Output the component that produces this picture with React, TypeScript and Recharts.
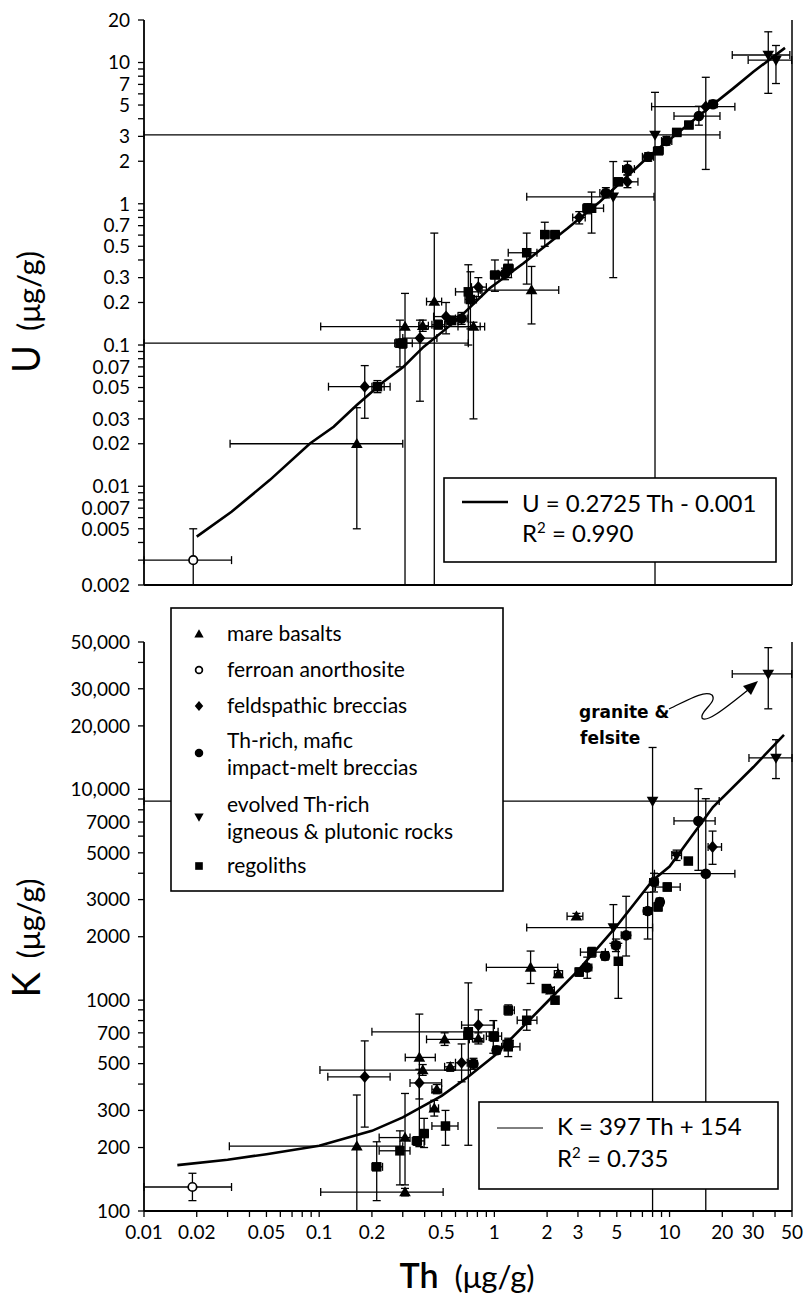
import React from 'react';
import { ComposedChart, Scatter, XAxis, YAxis, ErrorBar } from 'recharts';

// each point: [Th, value, ThLow, ThHigh, valueLow, valueHigh]
const uMare = [
  [0.164, 0.020, 0.031, 0.30, 0.005, 0.036],
  [0.309, 0.135, 0.102, 0.83, 0.002, 0.232],
  [0.39, 0.137, 0.37, 0.42, 0.125, 0.15],
  [0.454, 0.203, 0.41, 0.50, 0.002, 0.62],
  [0.76, 0.135, 0.62, 0.88, 0.030, 0.145],
  [1.63, 0.245, 0.83, 2.33, 0.141, 0.36],
];
const uFerroan = [[0.0191, 0.0030, 0.01, 0.0316, 0.002, 0.0050]];
const uFeld = [
  [0.182, 0.0507, 0.113, 0.254, 0.0303, 0.0715],
  [0.376, 0.112, 0.30, 0.47, 0.040, 0.15],
  [0.53, 0.159, 0.45, 0.62, 0.12, 0.20],
  [0.81, 0.257, 0.74, 0.9, 0.22, 0.3],
  [3.05, 0.80, 2.8, 3.3, 0.72, 0.88],
  [5.75, 1.43, 5.2, 6.6, 1.3, 1.6],
  [16.1, 4.87, 7.9, 23.6, 1.75, 7.86],
];
const uMelt = [
  [0.65, 0.154, 0.6, 0.7, 0.14, 0.17],
  [1.15, 0.32, 1.05, 1.25, 0.29, 0.35],
  [4.33, 1.19, 4.0, 4.7, 1.1, 1.3],
  [5.75, 1.76, 5.4, 6.3, 1.6, 2.0],
  [7.55, 2.15, 7.0, 8.1, 2.0, 2.3],
  [9.6, 2.78, 9.0, 10.3, 2.6, 3.0],
  [14.7, 4.18, 10.6, 19.4, 3.6, 4.9],
  [17.7, 5.06, 16.8, 18.7, 4.8, 5.4],
];
const uEvolved = [
  [4.77, 1.12, 1.53, 8.15, 0.30, 1.99],
  [8.26, 3.07, 0.01, 19.4, 0.002, 6.15],
  [36.6, 11.3, 22.8, 48.6, 6.05, 16.5],
  [40.5, 10.4, 28.1, 49.8, 7.1, 13.2],
];
const uRegolith = [
  [0.215, 0.0507, 0.2, 0.235, 0.046, 0.056],
  [0.289, 0.103, 0.01, 0.71, 0.07, 0.15],
  [0.30, 0.103, 0.27, 0.34, 0.095, 0.11],
  [0.478, 0.139, 0.44, 0.52, 0.13, 0.15],
  [0.57, 0.149, 0.53, 0.62, 0.14, 0.16],
  [0.71, 0.238, 0.6, 0.85, 0.10, 0.37],
  [0.73, 0.21, 0.68, 0.79, 0.13, 0.33],
  [1.007, 0.313, 0.95, 1.07, 0.24, 0.40],
  [1.2, 0.349, 1.13, 1.28, 0.30, 0.40],
  [1.53, 0.45, 1.2, 1.75, 0.27, 0.62],
  [1.94, 0.605, 1.85, 2.05, 0.50, 0.74],
  [2.22, 0.605, 2.1, 2.35, 0.57, 0.64],
  [3.4, 0.93, 3.2, 3.6, 0.85, 1.0],
  [3.59, 0.93, 3.3, 4.2, 0.62, 1.21],
  [5.09, 1.43, 4.8, 5.4, 1.35, 1.52],
  [8.63, 2.37, 8.1, 9.2, 2.25, 2.5],
  [11.0, 3.2, 10.4, 11.6, 3.05, 3.35],
  [12.9, 3.61, 12.2, 13.6, 3.45, 3.8],
];
const uFitTh = [0.02, 0.0316, 0.0524, 0.0886, 0.121, 0.164, 0.233, 0.302, 0.394, 0.61, 0.94, 1.46, 2.62, 4.0, 7.4, 14.9, 23.1, 30.1, 45.6];
const uFitU = [0.0044, 0.0066, 0.0111, 0.0201, 0.0264, 0.0376, 0.055, 0.070, 0.097, 0.150, 0.252, 0.378, 0.67, 1.035, 2.1, 4.25, 6.56, 8.6, 12.7];

const kMare = [
  [0.164, 203, 0.0307, 0.30, 100, 355],
  [0.309, 223, 0.22, 0.33, 133, 361],
  [0.309, 123, 0.102, 0.51, 118, 128],
  [0.373, 535, 0.31, 0.46, 202, 859],
  [0.39, 466, 0.101, 0.73, 440, 495],
  [0.454, 307, 0.43, 0.48, 282, 335],
  [0.469, 378, 0.44, 0.50, 360, 398],
  [0.52, 652, 0.41, 0.72, 610, 700],
  [0.56, 483, 0.52, 0.6, 460, 505],
  [0.81, 658, 0.75, 0.87, 620, 700],
  [1.61, 1430, 0.9, 2.3, 1200, 1710],
  [2.1, 1115, 2.0, 2.2, 1080, 1150],
  [2.32, 1330, 2.2, 2.45, 1280, 1380],
  [2.94, 2500, 2.6, 3.2, 2420, 2580],
];
const kFerroan = [[0.0189, 130, 0.01, 0.0316, 112, 151]];
const kFeld = [
  [0.182, 433, 0.112, 0.254, 250, 641],
  [0.373, 405, 0.33, 0.50, 340, 470],
  [0.65, 505, 0.6, 0.7, 410, 620],
  [0.81, 762, 0.65, 1.0, 650, 900],
  [17.6, 5330, 16.6, 19.8, 4410, 6340],
];
const kMelt = [
  [0.76, 500, 0.72, 0.8, 470, 530],
  [1.03, 579, 0.98, 1.08, 555, 605],
  [3.39, 1430, 3.2, 3.6, 1270, 1600],
  [4.28, 1620, 4.1, 4.5, 1550, 1700],
  [4.94, 1820, 4.7, 5.2, 1700, 1950],
  [5.65, 2030, 5.3, 6.0, 1620, 3110],
  [7.5, 2650, 7.1, 7.9, 1950, 3250],
  [8.8, 2920, 8.4, 9.2, 2800, 3050],
  [8.15, 3640, 7.7, 8.6, 3260, 4000],
  [14.6, 7080, 10.6, 18.2, 4130, 10070],
  [16.1, 3980, 8.2, 23.6, 100, 9030],
];
const kEvolved = [
  [1.2, 620, 1.12, 1.28, 590, 650],
  [4.78, 2210, 1.53, 8.0, 1860, 2840],
  [8.0, 8800, 0.01, 19.2, 100, 15800],
  [10.97, 4860, 10.3, 11.7, 4600, 5150],
  [36.6, 35300, 22.8, 49.8, 24100, 47000],
  [40.5, 14100, 28.4, 50, 11250, 17200],
];
const kRegolith = [
  [0.213, 162, 0.20, 0.23, 112, 213],
  [0.289, 193, 0.22, 0.33, 133, 240],
  [0.363, 215, 0.34, 0.40, 205, 225],
  [0.397, 233, 0.38, 0.42, 200, 275],
  [0.526, 253, 0.44, 0.62, 205, 300],
  [0.71, 682, 0.67, 0.75, 205, 1208],
  [0.71, 708, 0.20, 1.05, 690, 725],
  [0.986, 675, 0.9, 1.1, 560, 800],
  [1.0, 670, 0.95, 1.05, 640, 700],
  [1.2, 601, 1.1, 1.4, 540, 660],
  [1.2, 897, 1.15, 1.3, 850, 950],
  [1.53, 803, 1.35, 1.75, 720, 900],
  [1.98, 1135, 1.9, 2.06, 1100, 1170],
  [2.22, 1000, 2.12, 2.32, 970, 1030],
  [3.05, 1360, 2.9, 3.2, 1300, 1420],
  [3.6, 1690, 3.1, 4.3, 1600, 1780],
  [5.1, 1530, 4.9, 5.3, 1020, 1860],
  [8.6, 2770, 8.2, 9.0, 2650, 2900],
  [9.7, 3440, 8.3, 11.5, 3300, 3600],
  [12.8, 4570, 12.3, 13.3, 4450, 4700],
];
const kFitTh = [0.0155, 0.03, 0.05, 0.1, 0.2, 0.3, 0.5, 0.7, 1.0, 2.0, 3.0, 5.0, 8.0, 10, 17.7, 30.1, 45];
const kFitK = [165, 175, 186, 204, 240, 278, 352, 430, 545, 980, 1380, 2250, 3700, 4300, 8240, 12760, 18150];

// axes
const thTicks = [0.01, 0.02, 0.03, 0.04, 0.05, 0.06, 0.07, 0.08, 0.09, 0.1, 0.2, 0.3, 0.4, 0.5, 0.6, 0.7, 0.8, 0.9, 1, 2, 3, 4, 5, 6, 7, 8, 9, 10, 20, 30, 40, 50];
const thLabels = ['0.01', '0.02', '0.05', '0.1', '0.2', '0.5', '1', '2', '3', '5', '10', '20', '30', '50'];
const uTicks = [0.002, 0.003, 0.004, 0.005, 0.006, 0.007, 0.008, 0.009, 0.01, 0.02, 0.03, 0.04, 0.05, 0.06, 0.07, 0.08, 0.09, 0.1, 0.2, 0.3, 0.4, 0.5, 0.6, 0.7, 0.8, 0.9, 1, 2, 3, 4, 5, 6, 7, 8, 9, 10, 20];
const uLabels = ['0.002', '0.005', '0.007', '0.01', '0.02', '0.03', '0.05', '0.07', '0.1', '0.2', '0.3', '0.5', '0.7', '1', '2', '3', '5', '7', '10', '20'];
const kTicks = [100, 200, 300, 400, 500, 600, 700, 800, 900, 1000, 2000, 3000, 4000, 5000, 6000, 7000, 8000, 9000, 10000, 20000, 30000, 40000, 50000];
const kLabels = ['100', '200', '300', '500', '700', '1000', '2000', '3000', '5000', '7000', '10,000', '20,000', '30,000', '50,000'];

const FONT = 'Lato, "Open Sans", sans-serif';
const tickStyle = { fontSize: 19, fill: '#000', fontFamily: FONT };
const axisStroke = { stroke: '#000', strokeWidth: 1.8 };
const tickStroke = { stroke: '#000', strokeWidth: 1.3 };

const labelFmt = (labels: string[]) => (v: number) => {
  const hit = labels.find((s) => Number(s.replace(',', '')) === v);
  return hit ?? '';
};

const toRows = (pts: number[][]) =>
  pts.map(([x, y, xl, xh, yl, yh]) => ({ x, y, ex: [x - xl, xh - x], ey: [y - yl, yh - y] }));
const fitRows = (xs: number[], ys: number[]) => xs.map((x, i) => ({ x, y: ys[i] }));

function Marker({ kind, cx, cy, s = 1 }: { kind: string; cx: number; cy: number; s?: number }) {
  if (cx == null || cy == null || isNaN(cx) || isNaN(cy)) return <g />;
  const r = 5.3 * s;
  switch (kind) {
    case 'tri':
      return <path d={`M${cx},${cy - r * 1.1}L${cx + r * 1.1},${cy + r * 0.8}L${cx - r * 1.1},${cy + r * 0.8}Z`} fill="#000" />;
    case 'inv':
      return <path d={`M${cx},${cy + r * 1.1}L${cx + r * 1.1},${cy - r * 0.8}L${cx - r * 1.1},${cy - r * 0.8}Z`} fill="#000" />;
    case 'dia':
      return <path d={`M${cx},${cy - r * 1.15}L${cx + r},${cy}L${cx},${cy + r * 1.15}L${cx - r},${cy}Z`} fill="#000" />;
    case 'sq':
      return <rect x={cx - r * 0.9} y={cy - r * 0.9} width={r * 1.8} height={r * 1.8} fill="#000" />;
    case 'open':
      return <circle cx={cx} cy={cy} r={r * 0.8} fill="#fff" stroke="#000" strokeWidth={1.7} />;
    default:
      return <circle cx={cx} cy={cy} r={r} fill="#000" />;
  }
}

const shapeOf = (kind: string) => (p: any) => <Marker kind={kind} cx={p.cx} cy={p.cy} />;
const noShape = () => <g />;

type Series = { kind: string; pts: number[][] };

function Panel(props: {
  series: Series[];
  fit: { x: number; y: number }[];
  yDomain: [number, number];
  yTicks: number[];
  yLabels: string[];
  height: number;
  top: number;
  showX: boolean;
}) {
  const { series, fit, yDomain, yTicks, yLabels, height, top, showX } = props;
  return (
    <ComposedChart width={807} height={height} margin={{ top, right: 0, bottom: 0, left: 0 }}>
      <XAxis
        xAxisId="b"
        dataKey="x"
        type="number"
        scale="log"
        domain={[0.01, 50]}
        ticks={thTicks}
        interval={0}
        allowDataOverflow
        height={showX ? 46 : 15}
        tickSize={6}
        tickMargin={9}
        tick={showX ? tickStyle : false}
        tickFormatter={labelFmt(thLabels)}
        axisLine={axisStroke}
        tickLine={tickStroke}
      />
      <XAxis
        xAxisId="t"
        orientation="top"
        dataKey="x"
        type="number"
        scale="log"
        domain={[0.01, 50]}
        allowDataOverflow
        height={0}
        tick={false}
        tickLine={false}
        axisLine={{ stroke: '#000', strokeWidth: 1.5 }}
      />
      <YAxis
        yAxisId="l"
        dataKey="y"
        type="number"
        scale="log"
        domain={yDomain}
        ticks={yTicks}
        interval={0}
        allowDataOverflow
        width={144}
        tickSize={6}
        tickMargin={8}
        tick={tickStyle}
        tickFormatter={labelFmt(yLabels)}
        axisLine={axisStroke}
        tickLine={tickStroke}
      />
      <YAxis
        yAxisId="r"
        orientation="right"
        dataKey="y"
        type="number"
        scale="log"
        domain={yDomain}
        ticks={yTicks}
        interval={0}
        allowDataOverflow
        width={15}
        tickSize={6}
        tick={false}
        axisLine={{ stroke: '#000', strokeWidth: 1.5 }}
        tickLine={tickStroke}
      />
      <Scatter
        xAxisId="b"
        yAxisId="l"
        data={fit}
        shape={noShape}
        line={{ stroke: '#000', strokeWidth: 2.6 }}
        lineType="joint"
        isAnimationActive={false}
      />
      {series.map((s) => (
        <Scatter
          key={s.kind}
          xAxisId="b"
          yAxisId="l"
          data={toRows(s.pts)}
          shape={shapeOf(s.kind)}
          isAnimationActive={false}
        >
          <ErrorBar dataKey="ex" direction="x" width={4} stroke="#000" strokeWidth={1.3} />
          <ErrorBar dataKey="ey" direction="y" width={4} stroke="#000" strokeWidth={1.3} />
        </Scatter>
      ))}
    </ComposedChart>
  );
}

const topSeries: Series[] = [
  { kind: 'tri', pts: uMare },
  { kind: 'open', pts: uFerroan },
  { kind: 'dia', pts: uFeld },
  { kind: 'dot', pts: uMelt },
  { kind: 'inv', pts: uEvolved },
  { kind: 'sq', pts: uRegolith },
];
const bottomSeries: Series[] = [
  { kind: 'tri', pts: kMare },
  { kind: 'open', pts: kFerroan },
  { kind: 'dia', pts: kFeld },
  { kind: 'dot', pts: kMelt },
  { kind: 'inv', pts: kEvolved },
  { kind: 'sq', pts: kRegolith },
];

const legendItems = [
  { kind: 'tri', lines: ['mare basalts'], y: 634 },
  { kind: 'open', lines: ['ferroan anorthosite'], y: 670 },
  { kind: 'dia', lines: ['feldspathic breccias'], y: 706 },
  { kind: 'dot', lines: ['Th-rich, mafic', 'impact-melt breccias'], y: 741 },
  { kind: 'inv', lines: ['evolved Th-rich', 'igneous & plutonic rocks'], y: 805 },
  { kind: 'sq', lines: ['regoliths'], y: 866 },
];

function Overlay() {
  return (
    <svg width={807} height={1299} style={{ position: 'absolute', left: 0, top: 0 }} fontFamily={FONT}>
      {/* axis titles */}
      <text transform="translate(40,312) rotate(-90)" textAnchor="middle" fontSize={38}>
        U<tspan fontSize={31} dx={14}>(μg/g)</tspan>
      </text>
      <text transform="translate(40,938) rotate(-90)" textAnchor="middle" fontSize={38}>
        K<tspan fontSize={31} dx={14}>(μg/g)</tspan>
      </text>
      <text x={467} y={1288} textAnchor="middle" fontSize={34} fontWeight={600}>
        Th<tspan fontSize={31} fontWeight={400} dx={16}>(μg/g)</tspan>
      </text>

      {/* legend */}
      <rect x={171} y={608} width={332} height={283} fill="#fff" stroke="#000" strokeWidth={1.6} />
      {legendItems.map((it) => (
        <g key={it.kind}>
          <Marker kind={it.kind} cx={199} cy={it.lines.length > 1 ? it.y + 12 : it.y} s={0.8} />
          {it.lines.map((l, i) => (
            <text key={l} x={227} y={it.y + 7 + i * 27} fontSize={21}>
              {l}
            </text>
          ))}
        </g>
      ))}

      {/* fit boxes */}
      <rect x={444} y={478} width={332} height={84} fill="#fff" stroke="#000" strokeWidth={1.6} />
      <line x1={462} x2={508} y1={502} y2={502} stroke="#000" strokeWidth={2.4} />
      <text x={522} y={512} fontSize={24}>U  = 0.2725 Th - 0.001</text>
      <text x={522} y={542} fontSize={24}>
        R<tspan dy={-9} fontSize={15}>2</tspan>
        <tspan dy={9}> = 0.990</tspan>
      </text>

      <rect x={479} y={1102} width={299} height={87} fill="#fff" stroke="#000" strokeWidth={1.6} />
      <line x1={497} x2={543} y1={1128} y2={1128} stroke="#000" strokeWidth={1} />
      <text x={557} y={1135} fontSize={24}>K  = 397 Th + 154</text>
      <text x={557} y={1167} fontSize={24}>
        R<tspan dy={-9} fontSize={15}>2</tspan>
        <tspan dy={9}> = 0.735</tspan>
      </text>

      {/* annotation */}
      <text x={579} y={718} fontSize={17} fontWeight={600} fontFamily='"Comic Sans MS", "DejaVu Sans", sans-serif'>
        granite &amp;
      </text>
      <text x={580} y={744} fontSize={17} fontWeight={600} fontFamily='"Comic Sans MS", "DejaVu Sans", sans-serif'>
        felsite
      </text>
      <path
        d="M669,709 C688,700 704,690 712,695 C718,702 699,712 702,718 C706,723 722,711 748,690"
        fill="none"
        stroke="#000"
        strokeWidth={1.3}
      />
      <path d="M758,681 L743,686 L751,695 Z" fill="#000" />
    </svg>
  );
}

export default function App() {
  return (
    <div style={{ position: 'absolute', left: 0, top: 0, width: 807, height: 1299, background: '#fff', fontFamily: FONT }}>
      <div style={{ position: 'absolute', left: 0, top: 0 }}>
        <Panel
          series={topSeries}
          fit={fitRows(uFitTh, uFitU)}
          yDomain={[0.002, 20]}
          yTicks={uTicks}
          yLabels={uLabels}
          height={600}
          top={20}
          showX={false}
        />
      </div>
      <div style={{ position: 'absolute', left: 0, top: 600 }}>
        <Panel
          series={bottomSeries}
          fit={fitRows(kFitTh, kFitK)}
          yDomain={[100, 50000]}
          yTicks={kTicks}
          yLabels={kLabels}
          height={657}
          top={42}
          showX
        />
      </div>
      <Overlay />
    </div>
  );
}
